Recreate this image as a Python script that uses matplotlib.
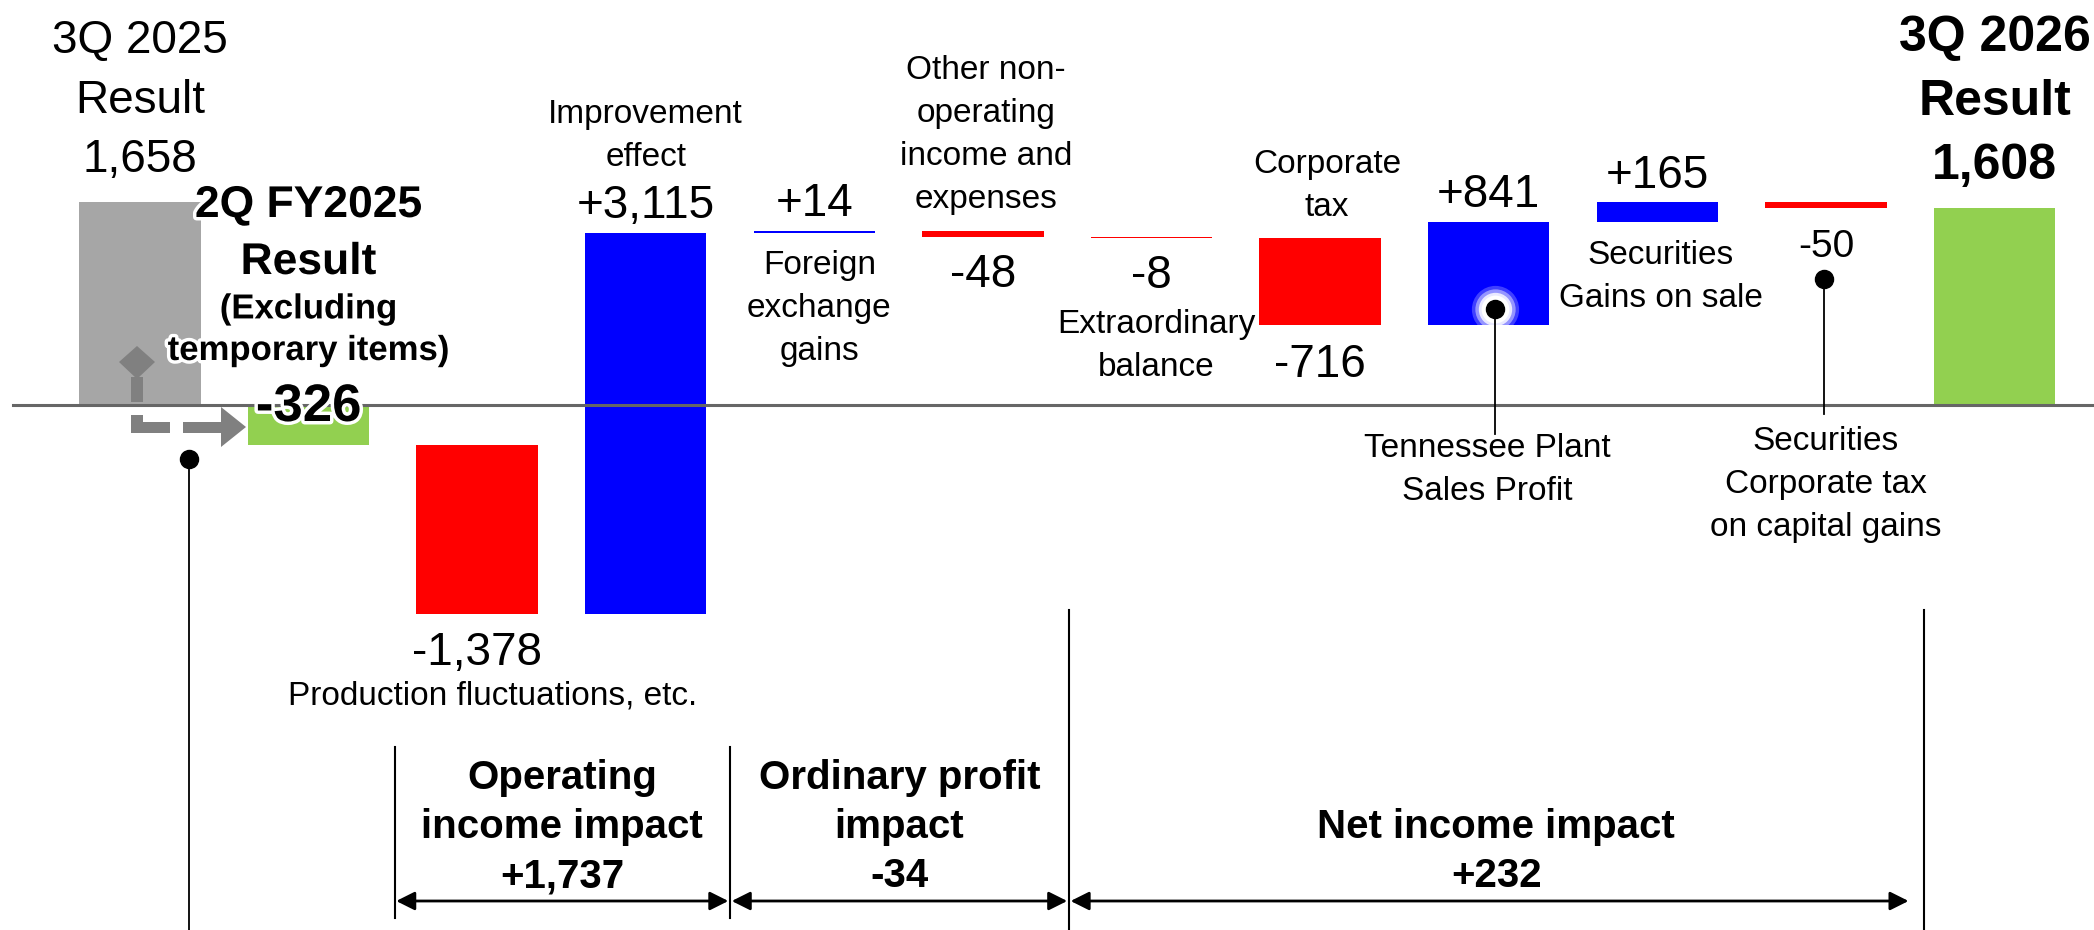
import matplotlib
matplotlib.use('Agg')
import matplotlib.pyplot as plt
import matplotlib.patheffects as pe
from matplotlib import font_manager
from matplotlib.patches import Polygon
from matplotlib.transforms import Affine2D, blended_transform_factory
import numpy as np

# --- data (100 million yen) ---
start_label = "3Q 2025\nResult"
start_value = 1658
base_label = "2Q FY2025\nResult"
base_note = "(Excluding\ntemporary items)"
base_value = -326
step_labels = ["Production fluctuations, etc.",
               "Improvement\neffect",
               "Foreign\nexchange\ngains",
               "Other non-\noperating\nincome and\nexpenses",
               "Extraordinary\nbalance",
               "Corporate\ntax",
               "Tennessee Plant\nSales Profit",
               "Securities\nGains on sale",
               "Securities\nCorporate tax\non capital gains"]
step_values = [-1378, 3115, 14, -48, -8, -716, 841, 165, -50]
end_label = "3Q 2026\nResult"
end_value = 1608
group_labels = ["Operating\nincome impact", "Ordinary profit\nimpact", "Net income impact"]
group_values = [1737, -34, 232]

# --- fonts ---
names = {f.name for f in font_manager.fontManager.ttflist}
FONT = 'Liberation Sans Narrow' if 'Liberation Sans Narrow' in names else 'Liberation Sans'
plt.rcParams['font.family'] = [FONT, 'DejaVu Sans']

W, H, DPI = 2094, 930, 100
fig = plt.figure(figsize=(W / DPI, H / DPI), dpi=DPI)
ax = fig.add_axes([0, 0, 1, 1])
ax.set_xlim(-0.83, 11.59)
ax.set_ylim(-4282, 3310)
ax.axis('off')

# y in pixels from the top, x in data
px = Affine2D().scale(1 / W, -1 / H).translate(0, 1) + fig.transFigure
ty = blended_transform_factory(ax.transData, px)

RED, BLUE, GREEN, GRAY = '#FF0000', '#0000FF', '#92D050', '#A6A6A6'
BW = 0.72

# bars
n = len(step_values)
levels = base_value + np.cumsum(step_values)
bottoms = np.concatenate([[base_value], levels[:-1]])
step_x = np.arange(2, 2 + n)
ax.bar(0, start_value, BW, color=GRAY, zorder=2)
ax.bar(1, base_value, BW, color=GREEN, zorder=2)
ax.bar(step_x, step_values, BW, bottom=bottoms,
       color=[BLUE if v > 0 else RED for v in step_values], zorder=2)
ax.bar(n + 2, end_value, BW, color=GREEN, zorder=2)

# zero line
ax.plot([-0.753, 11.59], [0, 0], color='#666666', lw=2.2, zorder=3)


def label(x, y, s, size, bold=False, ls=1.5, **kw):
    ax.text(x, y, s, transform=ty, ha='center', va='baseline', fontsize=size,
            fontweight='bold' if bold else 'normal', linespacing=ls, zorder=6, **kw)


glow = [pe.withStroke(linewidth=5, foreground='white')]

label(0, 172, f"{start_label}\n{start_value:,}", 33, ls=1.45)
label(1, 274, base_label, 32, bold=True, ls=1.5, path_effects=glow)
label(1, 360, base_note, 25, bold=True, ls=1.33, path_effects=glow)
label(1, 421, f"{base_value:,}", 38, bold=True, path_effects=glow)
label(n + 2, 179, f"{end_label}\n{end_value:,}", 36, bold=True, ls=1.5)

# step labels: (value baseline, value size, name x offset, name baseline)
val_y = [665, 218, 216, 287, 288, 377, 207, 188, 257]
val_size = [33, 33, 33, 33, 33, 33, 33, 33, 28]
name_dx = [0.09, 0, 0.03, 0.02, 0.03, 0.04, -0.01, 0.02, 0]
name_y = [704, 166, 360, 208, 376, 216, 500, 307, 536]
for i in range(n):
    label(step_x[i], val_y[i], f"{step_values[i]:+,}", val_size[i])
    label(step_x[i] + name_dx[i], name_y[i], step_labels[i], 24, ls=1.5)

# callout dots and leaders
for ms, a in [(34, 0.25), (29, 0.45), (24, 0.8), (20, 1.0)]:
    ax.plot(8.04, 309, 'o', ms=ms, color='white', mec='none', alpha=a,
            transform=ty, zorder=4)
for x, y0, y1 in [(0.29, 459, 930), (8.04, 309, 434), (9.99, 279, 414)]:
    ax.plot([x, x], [y0, y1], color='black', lw=1.3, transform=ty, zorder=5)
    ax.plot(x, y0, 'o', ms=13, color='black', transform=ty, zorder=5)

# gray flow icon
icon = [[(119, 362), (137, 346), (155, 362), (137, 379)],
        [(131, 377), (143, 377), (143, 402), (131, 402)],
        [(131, 415), (143, 415), (143, 422), (170, 422), (170, 433), (131, 433)],
        [(183, 422), (221, 422), (221, 407), (246, 427), (221, 447), (221, 433), (183, 433)]]
for pts in icon:
    ax.add_patch(Polygon(pts, closed=True, facecolor='#808080', edgecolor='none',
                         transform=px, zorder=4))

# impact brackets
dividers = [1.51, 3.5, 5.51, 10.58]
div_top = [747, 747, 610, 610]
div_bot = [918, 918, 930, 930]
for d, t, b in zip(dividers, div_top, div_bot):
    ax.plot([d, d], [t, b], color='black', lw=1.5, transform=ty)
arrow_ends = [(1.52, 3.49), (3.51, 5.50), (5.52, 10.49)]
for i, (a, b) in enumerate(arrow_ends):
    ax.annotate('', xy=(b, 901), xytext=(a, 901), xycoords=ty, textcoords=ty,
                arrowprops=dict(arrowstyle='<|-|>', mutation_scale=28, lw=2,
                                color='black', shrinkA=0, shrinkB=0))
    mid = (dividers[i] + dividers[i + 1]) / 2
    label(mid, 887, f"{group_labels[i]}\n{group_values[i]:+,}", 29, bold=True, ls=1.36)

fig.savefig('out.png', dpi=DPI)
